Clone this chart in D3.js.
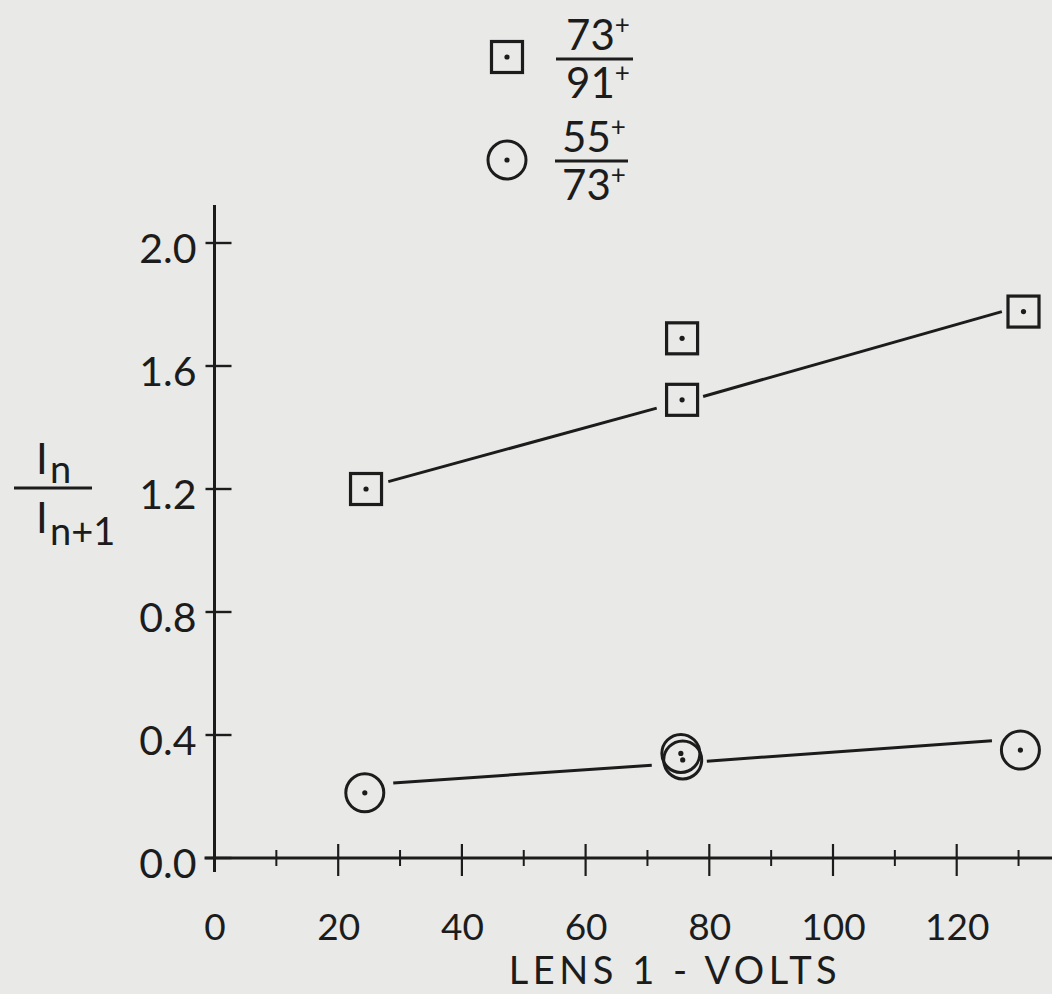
<!DOCTYPE html>
<html>
<head>
<meta charset="utf-8">
<script src="https://cdn.jsdelivr.net/npm/d3@7"></script>
<style>
  html, body { margin: 0; padding: 0; background: #e9e9e7; }
  svg { display: block; }
  text { font-family: Lato, "Open Sans", sans-serif; fill: #1c1c1c; }
</style>
</head>
<body>
<svg id="chart" width="1052" height="994"></svg>
<script>
// ---- data ----
const xMajorTicks = [0, 20, 40, 60, 80, 100, 120];
const xMinorTicks = [10, 30, 50, 70, 90, 110, 130];
const yTicks = [0.0, 0.4, 0.8, 1.2, 1.6, 2.0];
const yTickLabels = ["0.0", "0.4", "0.8", "1.2", "1.6", "2.0"];

// 73+/91+ ratio (squares)
const squareX = [24.5, 75.6, 75.6, 130.8];
const squareY = [1.20, 1.49, 1.69, 1.777];
// 55+/73+ ratio (circles)
const circleX = [24.3, 75.4, 75.7, 130.3];
const circleY = [0.212, 0.340, 0.319, 0.351];

// drawn trend line segments [x1, x2], [y1, y2]
const squareLineX = [[28.1, 71.5], [79.0, 127.3]];
const squareLineY = [[1.224, 1.463], [1.501, 1.777]];
const circleLineX = [[28.9, 70.7], [79.6, 125.7]];
const circleLineY = [[0.244, 0.302], [0.315, 0.381]];

const xTitle = "LENS 1 - VOLTS";

// ---- drawing ----
const ink = "#1c1c1c";
const svg = d3.select("#chart");

const x = d3.scaleLinear().domain([0, 130]).range([214.5, 214.5 + 130 * 6.185]);
const y = d3.scaleLinear().domain([0, 2]).range([858, 243]);

const g = svg.append("g");

// axis lines
g.append("line").attr("x1", x(0) - 10).attr("x2", 1052).attr("y1", y(0)).attr("y2", y(0))
  .attr("stroke", ink).attr("stroke-width", 3.2);
g.append("line").attr("x1", x(0)).attr("x2", x(0)).attr("y1", 205).attr("y2", y(0) + 14)
  .attr("stroke", ink).attr("stroke-width", 3);

// x axis labels via d3 axis
const xAxis = d3.axisBottom(x).tickValues(xMajorTicks).tickSize(0).tickPadding(0)
  .tickFormat(d3.format("d"));
const xg = g.append("g").attr("transform", `translate(0,${y(0)})`).call(xAxis);
xg.select(".domain").remove();
xg.selectAll("text").attr("y", 82).attr("dy", null)
  .style("font-size", "37px").style("font-family", "Lato, sans-serif").attr("fill", ink);

// x tick marks crossing the axis
g.selectAll(".xmaj").data(xMajorTicks.slice(1)).enter().append("line")
  .attr("x1", d => x(d)).attr("x2", d => x(d))
  .attr("y1", y(0) - 14).attr("y2", y(0) + 18)
  .attr("stroke", ink).attr("stroke-width", 2.2);
g.selectAll(".xmin").data(xMinorTicks).enter().append("line")
  .attr("x1", d => x(d)).attr("x2", d => x(d))
  .attr("y1", y(0) - 8).attr("y2", y(0) + 8)
  .attr("stroke", ink).attr("stroke-width", 2);

// y axis labels via d3 axis
const yAxis = d3.axisLeft(y).tickValues(yTicks).tickSize(0).tickPadding(0)
  .tickFormat((d, i) => yTickLabels[i]);
const yg = g.append("g").attr("transform", `translate(${x(0)},0)`).call(yAxis);
yg.select(".domain").remove();
yg.selectAll("text").attr("x", -18).attr("dy", "0.47em")
  .style("font-size", "41px").style("font-family", "Lato, sans-serif").attr("fill", ink);

g.selectAll(".ytick").data(yTicks).enter().append("line")
  .attr("x1", x(0) - 9).attr("x2", x(0) + 17)
  .attr("y1", d => y(d)).attr("y2", d => y(d))
  .attr("stroke", ink).attr("stroke-width", 2.4);

// x title
g.append("text").attr("x", 675).attr("y", 984).attr("text-anchor", "middle")
  .style("font-size", "38px").style("letter-spacing", "4.5px").text(xTitle);

// y title: I_n / I_{n+1}
const yt = g.append("g");
yt.append("text").attr("x", 36).attr("y", 474).style("font-size", "42px").text("I");
yt.append("text").attr("x", 50).attr("y", 483).style("font-size", "38px").text("n");
yt.append("line").attr("x1", 14).attr("x2", 92).attr("y1", 488).attr("y2", 488)
  .attr("stroke", ink).attr("stroke-width", 3);
yt.append("text").attr("x", 36).attr("y", 533).style("font-size", "42px").text("I");
yt.append("text").attr("x", 50).attr("y", 545).style("font-size", "38px").text("n+1");

// trend lines
function drawSegments(xs, ys) {
  xs.forEach((xx, i) => {
    g.append("line")
      .attr("x1", x(xx[0])).attr("y1", y(ys[i][0]))
      .attr("x2", x(xx[1])).attr("y2", y(ys[i][1]))
      .attr("stroke", ink).attr("stroke-width", 3);
  });
}
drawSegments(squareLineX, squareLineY);
drawSegments(circleLineX, circleLineY);

// markers
const side = 31, rad = 19;
function square(sel, cx, cy) {
  sel.append("rect").attr("x", cx - side / 2).attr("y", cy - side / 2)
    .attr("width", side).attr("height", side)
    .attr("fill", "none").attr("stroke", ink).attr("stroke-width", 3.2);
  sel.append("circle").attr("cx", cx).attr("cy", cy).attr("r", 2.6).attr("fill", ink);
}
function ring(sel, cx, cy) {
  sel.append("circle").attr("cx", cx).attr("cy", cy).attr("r", rad)
    .attr("fill", "none").attr("stroke", ink).attr("stroke-width", 3);
  sel.append("circle").attr("cx", cx).attr("cy", cy).attr("r", 2.6).attr("fill", ink);
}
squareX.forEach((d, i) => square(g, x(d), y(squareY[i])));
circleX.forEach((d, i) => ring(g, x(d), y(circleY[i])));

// legend
const lg = svg.append("g");
square(lg, 507, 57);
ring(lg, 507, 160);
function fraction(cx, barY, top, bottom, x1, x2) {
  const t = lg.append("text").attr("x", cx).attr("y", barY - 9).attr("text-anchor", "middle")
    .style("font-size", "42px");
  t.append("tspan").text(top);
  t.append("tspan").attr("dy", -16).style("font-size", "26px").text("+");
  lg.append("line").attr("x1", x1).attr("x2", x2).attr("y1", barY).attr("y2", barY)
    .attr("stroke", ink).attr("stroke-width", 3);
  const b = lg.append("text").attr("x", cx).attr("y", barY + 39).attr("text-anchor", "middle")
    .style("font-size", "42px");
  b.append("tspan").text(bottom);
  b.append("tspan").attr("dy", -16).style("font-size", "26px").text("+");
}
fraction(598, 59, "73", "91", 556, 633);
fraction(594, 161, "55", "73", 555, 628);
</script>
</body>
</html>
